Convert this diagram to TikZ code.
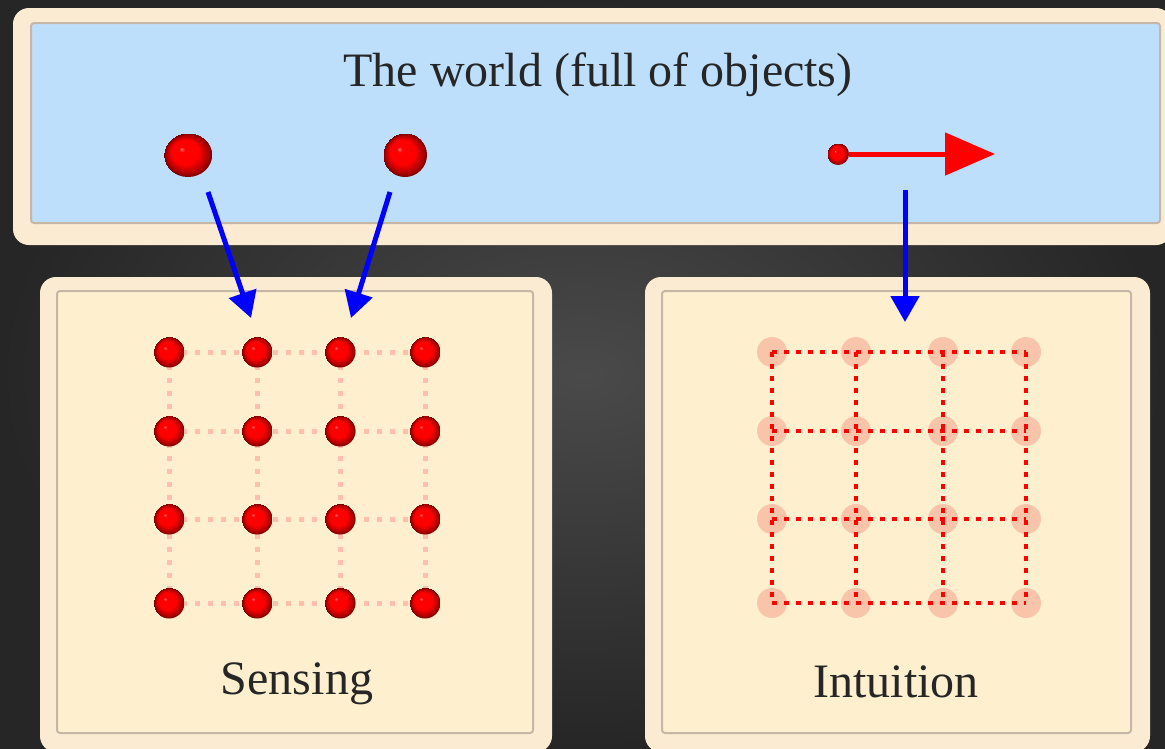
\documentclass[tikz,border=0pt]{standalone}
\usepackage{fontspec}
\setmainfont{Liberation Serif}
\usetikzlibrary{arrows.meta, positioning}

\definecolor{bgdark}{HTML}{262626}
\definecolor{bglight}{HTML}{4A4A4A}
\definecolor{framecream}{HTML}{FCEBD3}
\definecolor{frameedge}{HTML}{C4B7A5}
\definecolor{skyfill}{HTML}{BEDFFC}
\definecolor{paperfill}{HTML}{FEF0CF}
\definecolor{paledot}{HTML}{FFBFAA}
\definecolor{ghostdot}{HTML}{F7BBA2}

\pgfdeclareradialshading{redball}{\pgfpoint{-7bp}{7bp}}{%
  color(0bp)=(red!55!white); color(3bp)=(red); color(14bp)=(red);
  color(22bp)=(red!65!black); color(25bp)=(red!45!black)}

\begin{document}
\begin{tikzpicture}[x=1pt, y=-1pt,
  outerframe/.style={fill=framecream, rounded corners=16pt, inner sep=0pt},
  panel/.style={draw=frameedge, line width=2pt, rounded corners=3pt, inner sep=0pt},
  caption/.style={anchor=base, font=\fontsize{48}{54}\selectfont, text=black!85},
  ball/.style={circle, inner sep=0pt, minimum size=#1, shading=redball, draw=none},
  ghost/.style={circle, inner sep=0pt, minimum size=30pt, fill=ghostdot, opacity=0.8},
  paleline/.style={draw=paledot, line width=5pt, dash pattern=on 5pt off 8pt},
  redline/.style={draw=red, line width=4.5pt, dash pattern=on 5pt off 7pt},
  sense/.style={draw=blue, line width=5pt, -{Triangle[length=26pt, width=28pt]}},
  motion/.style={draw=red, line width=5pt, -{Triangle[length=50pt, width=42pt]}}
]
\useasboundingbox (0,0) rectangle (1165,748);
\shade[inner color=bglight, outer color=bgdark] (0,0) rectangle (1165,748);

% the three panels
\node[outerframe, minimum width=1159pt, minimum height=237pt] (worldframe) at (592.5,126.5) {};
\node[panel, fill=skyfill, minimum width=1129pt, minimum height=200pt] (world) at (595.5,123) {};
\node[outerframe, minimum width=512pt, minimum height=475pt] (sensingframe) at (296,514.5) {};
\node[panel, fill=paperfill, minimum width=476pt, minimum height=442pt] (sensing) at (295,512) {};
\node[outerframe, minimum width=505pt, minimum height=475pt] (intuitionframe) at (897.5,514.5) {};
\node[panel, fill=paperfill, minimum width=469pt, minimum height=442pt] (intuition) at (896.5,512) {};

\node[caption] (worldlabel) at (598,86) {The world (full of objects)};
\node[caption] (sensinglabel) at (297,694) {Sensing};
\node[caption] (intuitionlabel) at (896,697) {Intuition};

% objects in the world
\node[ball=44pt, xscale=1.1] (obja) at (188,155) {};
\node[ball=44pt] (objb) at (405,155) {};
\node[ball=22pt] (objc) at (838,154) {};
\coordinate (objcgo) at (995,154);
\draw[motion] (objc) -- (objcgo);

% sensing grid
\foreach \c/\x in {1/169, 2/257, 3/340, 4/425} {
  \foreach \r/\y in {1/352, 2/431, 3/519, 4/603} {
    \coordinate (s\c\r) at (\x,\y);
  }
}
\foreach \k in {1,2,3,4} {
  \draw[paleline] (s1\k) -- (s4\k);
  \draw[paleline] (s\k1) -- (s\k4);
}
\foreach \c in {1,2,3,4} {
  \foreach \r in {1,2,3,4} {
    \node[ball=31pt] (sb\c\r) at (s\c\r) {};
  }
}

% intuition grid
\foreach \c/\x in {1/772, 2/856, 3/943, 4/1026} {
  \foreach \r/\y in {1/352, 2/431, 3/519, 4/603} {
    \node[ghost] (i\c\r) at (\x,\y) {};
  }
}
\foreach \k in {1,2,3,4} {
  \draw[redline] (i1\k.center) -- (i4\k.center);
  \draw[redline] (i\k1.center) -- (i\k4.center);
}

% what reaches the mind
\coordinate (sensea) at (208,192);
\coordinate (senseb) at (390,192);
\coordinate (sensec) at (905,190);
\coordinate (tipa) at (251,318);
\coordinate (tipb) at (351,318);
\coordinate (tipc) at (905,322);
\draw[sense] (sensea) -- (tipa);
\draw[sense] (senseb) -- (tipb);
\draw[sense] (sensec) -- (tipc);
\end{tikzpicture}
\end{document}
